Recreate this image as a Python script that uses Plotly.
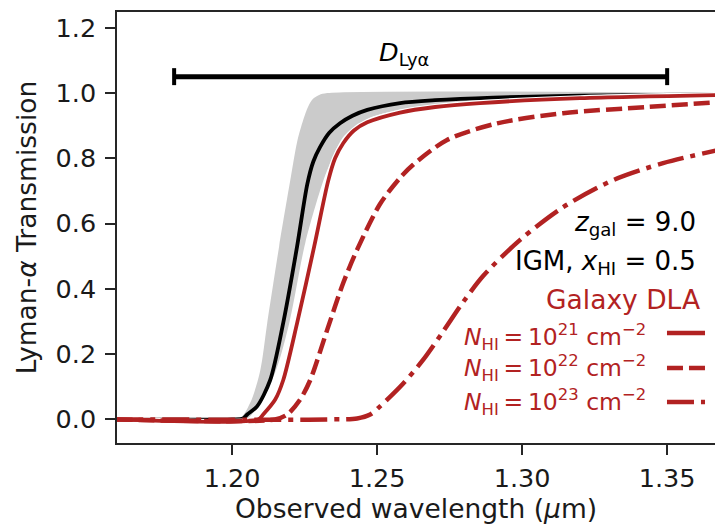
import plotly.graph_objects as go

# Observed wavelength grid (micron) and Lyman-alpha transmission curves
# IGM-only transmission (median) for z_gal = 9.0, x_HI = 0.5
wl_igm = [1.16, 1.2000, 1.2038, 1.2052, 1.2086, 1.2131, 1.2176, 1.2224, 1.2259,
          1.2280, 1.2303, 1.2335, 1.2372, 1.2415, 1.2466, 1.2579, 1.2700,
          1.2900, 1.3200, 1.3700]
T_igm = [0.0, 0.0, 0.003, 0.015, 0.04, 0.12, 0.295, 0.53, 0.72,
         0.79, 0.834, 0.878, 0.907, 0.93, 0.948, 0.969, 0.978,
         0.986, 0.992, 0.996]

# IGM scatter band: upper and lower envelopes
wl_band_hi = [1.16, 1.2021, 1.2062, 1.2097, 1.2121, 1.2162, 1.2200, 1.2224,
              1.2245, 1.2262, 1.2279, 1.2300, 1.2328, 1.3700]
T_band_hi = [0.0, 0.0, 0.05, 0.15, 0.295, 0.53, 0.73, 0.85,
             0.917, 0.958, 0.982, 0.994, 1.0, 1.0]
wl_band_lo = [1.16, 1.2045, 1.2072, 1.2148, 1.2197, 1.2252, 1.2314, 1.2350,
              1.2383, 1.2430, 1.2476, 1.2614, 1.2855, 1.3270, 1.3700]
T_band_lo = [0.0, 0.0, 0.02, 0.143, 0.295, 0.54, 0.73, 0.81,
             0.865, 0.9, 0.925, 0.955, 0.975, 0.99, 0.995]

# IGM + galaxy DLA, N_HI = 1e21 cm^-2
wl_dla21 = [1.16, 1.2090, 1.2107, 1.2148, 1.2176, 1.2224, 1.2283, 1.2331,
            1.2355, 1.2383, 1.2420, 1.2466, 1.2579, 1.2700, 1.2855, 1.3200, 1.3700]
T_dla21 = [0.0, 0.0, 0.015, 0.06, 0.12, 0.295, 0.53, 0.73,
           0.80, 0.846, 0.885, 0.91, 0.94, 0.957, 0.969, 0.984, 0.994]

# IGM + galaxy DLA, N_HI = 1e22 cm^-2
wl_dla22 = [1.16, 1.2148, 1.2190, 1.2234, 1.2269, 1.2328, 1.2383, 1.2431,
            1.2510, 1.2579, 1.2624, 1.2741, 1.2914, 1.3141, 1.3431, 1.3700]
T_dla22 = [0.0, 0.0, 0.015, 0.06, 0.12, 0.275, 0.418, 0.52,
           0.66, 0.74, 0.78, 0.856, 0.907, 0.938, 0.957, 0.973]

# IGM + galaxy DLA, N_HI = 1e23 cm^-2
wl_dla23 = [1.16, 1.2338, 1.2431, 1.2476, 1.2510, 1.2590, 1.2659, 1.2728,
            1.2797, 1.2866, 1.2993, 1.3141, 1.3314, 1.3486, 1.3700]
T_dla23 = [0.0, 0.0, 0.003, 0.015, 0.04, 0.11, 0.183, 0.27,
           0.36, 0.44, 0.55, 0.65, 0.733, 0.785, 0.83]

# Lyman-alpha damping-wing extent marker
d_lya_wl = [1.18, 1.35]
d_lya_level = [1.05, 1.05]

x_ticks = [1.20, 1.25, 1.30, 1.35]
y_ticks = [0.0, 0.2, 0.4, 0.6, 0.8, 1.0, 1.2]

legend_labels = [
    "<i>N</i><sub>HI</sub>\u2009=\u200910<sup>21</sup> cm<sup>\u22122</sup>",
    "<i>N</i><sub>HI</sub>\u2009=\u200910<sup>22</sup> cm<sup>\u22122</sup>",
    "<i>N</i><sub>HI</sub>\u2009=\u200910<sup>23</sup> cm<sup>\u22122</sup>",
]

RED = "#b22222"
GRAY = "#cbcbcb"
FONT = "DejaVu Sans"
FS_TICK = 25.5
FS_TITLE = 26.5
FS_NOTE = 26
FS_LEG = 23.5
DASH = "16px,6px"
DASHDOT = "27px,7px,5px,7px"
SMOOTH = 0.8

fig = go.Figure()

# scatter band
fig.add_trace(go.Scatter(x=wl_band_hi, y=T_band_hi, mode="lines",
                         line=dict(width=0, color=GRAY, shape="spline", smoothing=SMOOTH),
                         hoverinfo="skip"))
fig.add_trace(go.Scatter(x=wl_band_lo, y=T_band_lo, mode="lines", fill="tonexty",
                         fillcolor=GRAY,
                         line=dict(width=0, color=GRAY, shape="spline", smoothing=SMOOTH),
                         hoverinfo="skip"))

# IGM median
fig.add_trace(go.Scatter(x=wl_igm, y=T_igm, mode="lines",
                         line=dict(width=3.8, color="black", shape="spline", smoothing=SMOOTH)))

# DLA curves (solid one outlined in white)
fig.add_trace(go.Scatter(x=wl_dla21, y=T_dla21, mode="lines",
                         line=dict(width=6, color="white", shape="spline", smoothing=SMOOTH),
                         hoverinfo="skip"))
fig.add_trace(go.Scatter(x=wl_dla21, y=T_dla21, mode="lines",
                         line=dict(width=3.8, color=RED, shape="spline", smoothing=SMOOTH)))
fig.add_trace(go.Scatter(x=wl_dla22, y=T_dla22, mode="lines",
                         line=dict(width=4.5, color=RED, dash=DASH, shape="spline",
                                   smoothing=SMOOTH)))
fig.add_trace(go.Scatter(x=wl_dla23, y=T_dla23, mode="lines",
                         line=dict(width=4.5, color=RED, dash=DASHDOT, shape="spline",
                                   smoothing=SMOOTH)))

# D_Lya bracket
fig.add_trace(go.Scatter(x=d_lya_wl, y=d_lya_level, mode="lines",
                         line=dict(width=5, color="black"),
                         error_y=dict(type="constant", value=0.026, color="black",
                                      thickness=4, width=0),
                         hoverinfo="skip"))

annotations = [
    dict(x=1.2593, y=1.12, xref="x", yref="y", text="<i>D</i><sub>Ly\u03b1</sub>",
         showarrow=False, xanchor="center", yanchor="middle",
         font=dict(family=FONT, size=FS_TICK, color="black")),
    dict(x=0.9716, y=0.510, xref="paper", yref="paper",
         text="<i>z</i><sub>gal</sub> = 9.0",
         showarrow=False, xanchor="right", yanchor="middle",
         font=dict(family=FONT, size=FS_NOTE, color="black")),
    dict(x=0.9716, y=0.418, xref="paper", yref="paper",
         text="IGM, <i>x</i><sub>HI</sub> = 0.5",
         showarrow=False, xanchor="right", yanchor="middle",
         font=dict(family=FONT, size=FS_NOTE, color="black")),
    dict(x=0.9783, y=0.3318, xref="paper", yref="paper", text="Galaxy DLA",
         showarrow=False, xanchor="right", yanchor="middle",
         font=dict(family=FONT, size=FS_TITLE, color=RED)),
]

legend_rows = [0.2552, 0.174, 0.0951]
legend_text_y = [0.247, 0.174, 0.0951]
legend_dashes = ["solid", DASH, DASHDOT]
shapes = []
for label, yt, yr, dash in zip(legend_labels, legend_text_y, legend_rows, legend_dashes):
    annotations.append(dict(x=0.888, y=yt, xref="paper", yref="paper", text=label,
                            showarrow=False, xanchor="right", yanchor="middle",
                            font=dict(family=FONT, size=FS_LEG, color=RED)))
    shapes.append(dict(type="line", xref="paper", yref="paper",
                       x0=0.9197, x1=0.9833, y0=yr, y1=yr,
                       line=dict(color=RED, width=4.5, dash=dash)))

axis_common = dict(
    showline=True, linecolor="#262626", linewidth=1.5,
    ticks="outside", ticklen=10, tickwidth=1.5, tickcolor="#262626",
    showgrid=False, zeroline=False,
    tickfont=dict(family=FONT, size=FS_TICK, color="#1a1a1a"),
)

fig.update_layout(
    width=715, height=526,
    margin=dict(l=117, r=0, t=12, b=83),
    plot_bgcolor="white", paper_bgcolor="white",
    showlegend=False,
    annotations=annotations,
    shapes=shapes,
    xaxis=dict(range=[1.1603, 1.3665], tickvals=x_ticks, tickformat=".2f",
               mirror=True, ticklabelstandoff=2,
               title=dict(text="Observed wavelength (<i>\u03bc</i>m)", standoff=4,
                          font=dict(family=FONT, size=FS_TITLE, color="#1a1a1a")),
               **axis_common),
    yaxis=dict(range=[-0.0722, 1.248], tickvals=y_ticks, tickformat=".1f",
               ticklabelstandoff=4,
               title=dict(text="Lyman-<i>\u03b1</i> Transmission", standoff=11,
                          font=dict(family=FONT, size=FS_TITLE, color="#1a1a1a")),
               **axis_common),
)

fig.write_html("out.html")
